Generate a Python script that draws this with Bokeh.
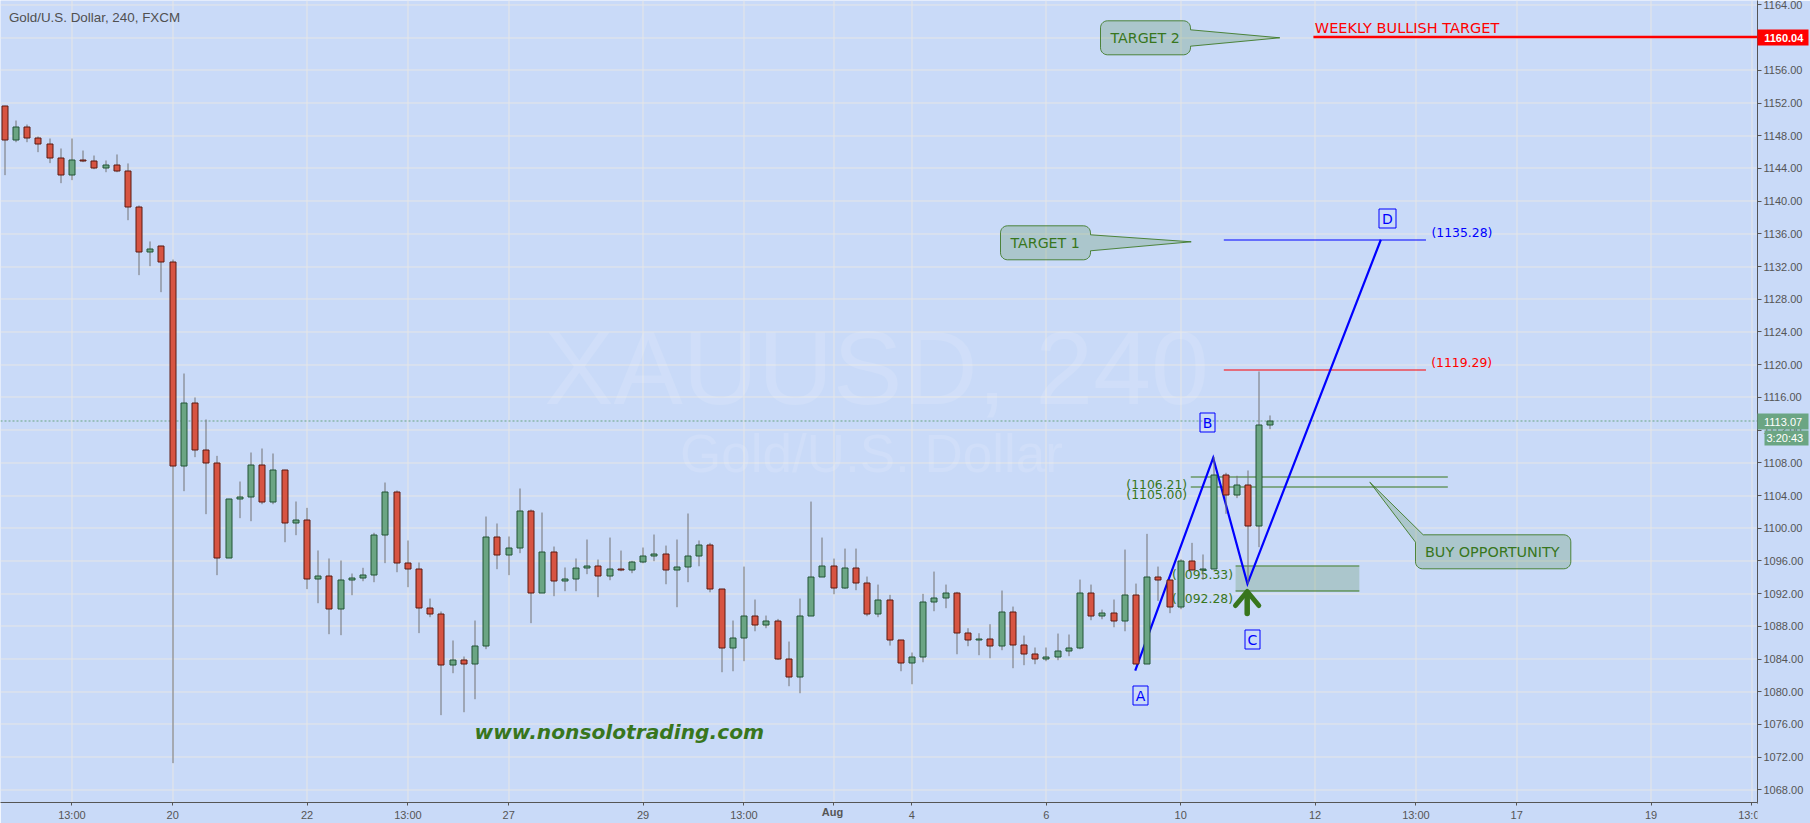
import numpy as np
from bokeh.plotting import figure
from bokeh.layouts import Row
from bokeh.models import FixedTicker, Range1d, NumeralTickFormatter
from bokeh.core.properties import value
from bokeh.embed import file_html
from bokeh.resources import INLINE

body_top = [1151.66,1149.09,1149.09,1147.74,1147.01,1145.3,1145.05,1145.05,1144.93,1144.44,
 1144.44,1143.71,1139.31,1134.17,1134.54,1132.58,1115.34,1115.34,1109.59,1108.0,
 1103.59,1103.84,1107.75,1107.75,1107.14,1107.14,1101.03,1101.03,1094.18,1094.18,
 1093.69,1093.93,1094.3,1099.19,1104.45,1104.45,1095.77,1095.03,1090.26,1089.53,
 1083.9,1083.9,1085.62,1098.95,1098.95,1097.6,1102.13,1102.13,1097.11,1097.11,
 1093.81,1095.16,1095.4,1095.4,1095.03,1095.03,1095.88,1096.62,1096.86,1096.86,
 1095.27,1096.62,1097.96,1097.96,1092.58,1086.59,1089.28,1089.28,1088.67,1088.67,
 1084.02,1089.28,1094.05,1095.4,1095.4,1095.15,1095.15,1093.32,1091.24,1091.24,
 1086.34,1084.27,1090.99,1091.48,1092.09,1092.09,1087.2,1086.47,1086.47,1089.77,
 1089.77,1085.73,1084.63,1084.27,1085.0,1085.37,1092.09,1092.09,1089.65,1089.65,
 1091.85,1091.85,1094.05,1094.05,1093.68,1096.01,1096.01,1094.99,1106.53,1106.53,
 1105.31,1105.31,1112.65,1113.07]
body_bot = [1147.5,1147.5,1147.74,1147.01,1145.3,1143.22,1143.22,1144.89,1144.08,1144.08,
 1143.71,1139.26,1133.8,1133.8,1132.58,1107.63,1107.63,1109.59,1108.0,1096.38,
 1096.38,1103.59,1103.84,1103.23,1103.23,1100.66,1100.66,1093.81,1093.81,1090.14,
 1090.14,1093.69,1093.93,1094.3,1099.19,1095.77,1095.03,1090.26,1089.53,1083.29,
 1083.29,1083.42,1083.42,1085.62,1096.75,1096.75,1097.6,1092.1,1092.1,1093.57,
 1093.57,1093.81,1095.16,1094.18,1094.17,1094.87,1094.91,1095.88,1096.58,1094.91,
 1094.91,1095.27,1096.62,1092.58,1085.37,1085.37,1086.59,1088.18,1088.18,1083.98,
 1081.82,1081.82,1089.28,1094.05,1092.7,1092.7,1093.32,1089.52,1089.52,1086.34,
 1083.53,1083.53,1084.27,1090.99,1091.48,1087.2,1086.34,1086.34,1085.61,1085.61,
 1085.73,1084.63,1083.98,1083.98,1084.23,1085.0,1085.33,1089.28,1089.28,1088.63,
 1088.63,1083.41,1083.41,1093.68,1090.38,1090.38,1094.87,1094.87,1094.99,1104.09,
 1104.09,1100.29,1100.29,1112.65]
highs = [1151.66,1149.86,1149.37,1147.91,1147.66,1146.44,1147.66,1146.19,1145.58,1144.97,
 1145.71,1144.61,1139.47,1135.07,1134.54,1132.86,1118.92,1115.99,1113.3,1108.85,
 1103.59,1105.71,1109.26,1109.75,1109.14,1107.14,1103.27,1102.49,1097.28,1096.3,
 1096.05,1094.46,1095.16,1099.44,1105.59,1104.62,1098.5,1095.81,1091.4,1089.82,
 1086.27,1084.31,1088.71,1101.43,1100.58,1098.99,1104.86,1102.29,1101.92,1097.76,
 1095.2,1096.3,1098.62,1096.17,1098.86,1097.27,1096.01,1097.64,1099.23,1097.88,
 1098.62,1101.8,1098.5,1098.21,1092.58,1088.71,1095.31,1091.28,1089.32,1088.91,
 1086.14,1091.4,1103.26,1098.86,1096.29,1097.51,1097.51,1094.09,1093.11,1091.85,
 1086.34,1084.8,1091.97,1094.7,1093.11,1092.22,1087.77,1087.16,1088.26,1092.38,
 1090.42,1086.87,1085.41,1085.41,1087.12,1087.0,1093.72,1093.11,1090.05,1091.28,
 1097.39,1093.23,1099.31,1095.31,1093.68,1096.21,1098.21,1096.79,1108.73,1106.78,
 1106.41,1107.06,1119.17,1113.79]
lows = [1143.18,1147.21,1147.21,1145.99,1144.65,1142.2,1142.57,1144.77,1143.91,1143.54,
 1143.54,1137.67,1130.95,1132.05,1128.87,1071.27,1104.53,1108.69,1101.72,1094.26,
 1096.38,1101.23,1100.86,1102.94,1102.94,1098.29,1099.15,1092.55,1090.83,1087.04,
 1086.92,1091.81,1093.52,1093.4,1095.73,1094.62,1092.79,1087.17,1089.12,1077.14,
 1082.27,1077.5,1079.09,1085.21,1094.99,1094.26,1096.95,1088.39,1092.1,1091.69,
 1092.3,1092.3,1094.38,1091.57,1093.64,1094.74,1094.5,1095.72,1095.97,1093.15,
 1090.34,1093.4,1095.35,1092.17,1082.39,1082.51,1083.74,1087.4,1087.77,1083.9,
 1080.68,1079.82,1089.28,1094.05,1091.93,1092.58,1092.42,1089.24,1089.12,1085.65,
 1082.51,1080.92,1083.61,1089.85,1090.22,1084.59,1085.57,1084.47,1084.1,1085.08,
 1082.88,1083.25,1083.37,1083.74,1083.86,1084.35,1085.2,1088.75,1088.87,1087.89,
 1087.4,1083.41,1083.41,1091.11,1089.61,1090.1,1094.87,1093.69,1094.99,1101.76,
 1103.68,1093.2,1097.69,1112.12]
candle_dir = ("rgrrrrgrrg" "rrrgrrgrrr" "gggrgrgrgr" "gggggrrrrr" "grggrggrgr"
              "gggrgrgggr" "gggrrggrgr" "rgggrgrrgr" "rggggrrgrg" "rrrggggrgr"
              "grgrrgrggr" "grgg")

x_ticks = [6, 15, 27, 36, 45, 57, 66, 74, 81, 93, 105, 117, 126, 135, 147, 156]
x_labels = ["13:00","20","22","13:00","27","29","13:00","Aug","4","6","10","12","13:00","17","19","13:00"]
y_ticks = list(range(1068, 1165, 4))

abcd_x = [100.94, 107.9, 110.96, 122.87]
abcd_y = [1082.6, 1108.61, 1093.2, 1135.28]
last_price = 1113.07
target_level = 1160.04

# pixel <-> data calibration of the layout
X0, DX, Y0, PY = 4.2, 11.2, 4.4, 8.177
FW, FH = 1757, 802
def xd(px): return (np.asarray(px, float) - X0) / DX
def yd(py): return 1164 - (np.asarray(py, float) - Y0) / PY
def xp(i): return X0 + DX * np.asarray(i, float)
def yp(v): return Y0 + (1164 - np.asarray(v, float)) * PY
def sx(i): return xd(np.floor(xp(i)) + 0.5)
def sy(v): return yd(np.floor(yp(v)) + 0.5)

BG, GRID, GREEN, BLUE, RED = "#c9daf8", "#e6e6e6", "#38761d", "#0000ff", "#ff0000"
TXT = "#555555"
TAG_GREEN = "#6ba583"

p = figure(width=1810, height=823, frame_width=FW, frame_height=FH, output_backend="svg",
           toolbar_location=None, y_axis_location="right",
           x_range=Range1d(float(xd(0)), float(xd(FW))), y_range=Range1d(float(yd(FH)), float(yd(0))),
           min_border_left=0, min_border_top=0, min_border_right=53, min_border_bottom=21,
           background_fill_color=BG, border_fill_color=BG, outline_line_color=None)
p.xgrid.visible = False
p.ygrid.visible = False

# grid
gx = sx(x_ticks)
p.segment(gx, yd(0), gx, yd(FH), line_color=GRID, line_width=1)
gy = sy(y_ticks)
p.segment(xd(0), gy, xd(FW), gy, line_color=GRID, line_width=1)

# axes
for ax in (p.xaxis[0], p.yaxis[0]):
    ax.axis_line_color = TXT
    ax.major_tick_line_color = TXT
    ax.minor_tick_line_color = None
    ax.major_tick_in = 0
    ax.major_label_text_color = TXT
    ax.major_label_text_font = "Liberation Sans"
    ax.major_label_text_font_size = "11px"
p.xaxis[0].ticker = FixedTicker(ticks=x_ticks)
p.xaxis[0].major_tick_out = 3
p.xaxis[0].major_label_standoff = 3
overrides = {t: l for t, l in zip(x_ticks, x_labels)}
overrides[74] = ""
p.xaxis[0].major_label_overrides = overrides
p.yaxis[0].ticker = FixedTicker(ticks=y_ticks)
p.yaxis[0].major_tick_out = 4
p.yaxis[0].major_label_standoff = 2
p.yaxis[0].formatter = NumeralTickFormatter(format="0.00")

def text(px, py, s, color, size, font="DejaVu Sans", align="left", style="normal", alpha=1.0):
    p.text([float(xd(px))], [float(yd(py))], text=[s], text_color=color, text_font=value(font),
           text_font_size=size, text_align=align, text_baseline="middle",
           text_font_style=style, text_alpha=alpha)

# watermark and title
text(876, 367, "XAUUSD, 240", "#ffffff", "104px", "Liberation Sans", "center", alpha=0.13)
text(871, 453, "Gold/U.S. Dollar", "#ffffff", "53px", "Liberation Sans", "center", alpha=0.13)
text(8.4, 16.5, "Gold/U.S. Dollar, 240, FXCM", "#505050", "13.4px", "Liberation Sans", "left")

# last price
p.line([float(xd(0)), float(xd(FW))], [float(sy(last_price))] * 2, line_color=TAG_GREEN, line_dash="2 2", line_width=1)

# Fibonacci levels
def hline(i0, i1, v, color, w=1):
    p.line([i0, i1], [float(sy(v))] * 2, line_color=color, line_width=w)
hline(108.85, 126.9, 1135.28, BLUE)
hline(108.85, 126.9, 1119.37, RED)
hline(105.9, 128.85, 1106.29, GREEN)
hline(105.9, 128.85, 1105.06, GREEN)
hline(116.85, float(xd(FW)), target_level, RED, 2.5)

# buy zone
p.quad(left=[109.9], right=[120.95], top=[1095.33], bottom=[1092.28], fill_color=GREEN, fill_alpha=0.2, line_color=None)
hline(109.9, 120.95, 1095.33, GREEN, 1.2)
hline(109.9, 120.95, 1092.28, GREEN, 1.2)

# ABCD leg
p.line(abcd_x, abcd_y, line_color=BLUE, line_width=2.2, line_join="miter")

# arrow
p.line(xd([1235, 1246.7, 1258.3]), yd([605, 591, 605]), line_color=GREEN, line_width=5, line_cap="round", line_join="round")
p.line(xd([1246.7, 1246.7]), yd([592, 613]), line_color=GREEN, line_width=5.5, line_cap="round")

# callouts
def corner(cx, cy, r, a0, a1, n=8):
    t = np.radians(np.linspace(a0, a1, n))
    return list(cx + r * np.cos(t)), list(cy + r * np.sin(t))
def callout(l, r, t, b, rad, tail=None, buy=None):
    xs, ys = [], []
    def add(c):
        xs.extend(c[0]); ys.extend(c[1])
    if buy is None:
        add(corner(l + rad, t + rad, rad, 180, 270))
    else:
        xs.extend([buy[2], buy[0], buy[4]]); ys.extend([buy[3], buy[1], buy[5]])
    add(corner(r - rad, t + rad, rad, 270, 360))
    if tail is not None:
        xs.extend([r, tail[0], r]); ys.extend([tail[1], tail[2], tail[3]])
    add(corner(r - rad, b - rad, rad, 0, 90))
    add(corner(l + rad, b - rad, rad, 90, 180))
    p.patch(xd(xs), yd(ys), fill_color=GREEN, fill_alpha=0.2, line_color=GREEN, line_alpha=0.85, line_width=1)
callout(1100, 1190, 20.3, 54.3, 7, tail=(1279.3, 29.3, 37.3, 45.7))
callout(1000, 1090, 225.3, 259.3, 7, tail=(1190.7, 234.3, 241.3, 250.3))
callout(1415, 1570.3, 534.3, 568.3, 7, buy=(1369.3, 481.7, 1415, 541.7, 1422.7, 534.3))
text(1110, 37.3, "TARGET 2", GREEN, "14.2px")
text(1010, 242, "TARGET 1", GREEN, "14.2px")
text(1424.5, 551.3, "BUY OPPORTUNITY", GREEN, "14.4px")
text(1314.3, 27.6, "WEEKLY BULLISH TARGET", RED, "14.5px")
text(474, 731, "www.nonsolotrading.com", GREEN, "20.2px", "DejaVu Sans", "left", "bold italic")

# level labels
text(1431, 232, "(1135.28)", BLUE, "12.4px")
text(1430.7, 362, "(1119.29)", RED, "12.4px")
text(1186.7, 484, "(1106.21)", GREEN, "12.4px", align="right")
text(1186.7, 493.7, "(1105.00)", GREEN, "12.4px", align="right")
text(1232.5, 573.7, "(1095.33)", GREEN, "12.4px", align="right")
text(1232.5, 597.7, "(1092.28)", GREEN, "12.4px", align="right")

# wave labels
for c, l, r, t, b in [("A", 1132.5, 1147.5, 685.5, 704.5), ("B", 1199.5, 1214.5, 412.5, 431.5),
                      ("C", 1244.5, 1259.5, 629.5, 648.5), ("D", 1378.5, 1395.5, 208.5, 227.5)]:
    p.quad(left=[float(xd(l))], right=[float(xd(r))], top=[float(yd(t))], bottom=[float(yd(b))],
           fill_color=None, line_color=BLUE, line_width=1)
    text((l + r) / 2, (t + b) / 2, c, BLUE, "14px", align="center")

# candles
n = len(body_top)
idx = np.arange(n)
cx = sx(idx)
half = 3.0 / DX
fills = ["#d75442" if d == "r" else "#6ba583" for d in candle_dir]
edges = ["#5b1a13" if d == "r" else "#225437" for d in candle_dir]
p.segment(cx, highs, cx, lows, line_color="#737375", line_width=1)
p.quad(left=cx - half, right=cx + half, top=sy(body_top), bottom=sy(body_bot),
       fill_color=fills, line_color=edges, line_width=1)

# transparent overlay in page pixels, for what lies beside the plot area
o = figure(width=1810, height=823, frame_width=1810, frame_height=823, output_backend="svg",
           toolbar_location=None, x_range=Range1d(0, 1810), y_range=Range1d(823, 0),
           min_border=0, background_fill_color=None, border_fill_color=None, outline_line_color=None)
o.axis.visible = False
o.xgrid.visible = False
o.ygrid.visible = False
o.margin = (0, 0, 0, -1810)
# the last time label runs into the price scale in the reference and is cut there
o.quad(left=[1757], right=[1810], top=[804], bottom=[823], fill_color=BG, line_color=None)
o.line([1757, 1757], [802, 803], line_color=TXT)
# price tags
o.quad(left=[1757, 1757, 1764], right=[1808, 1808, 1808], top=[29, 413, 430], bottom=[45, 429, 445],
       fill_color=[RED, TAG_GREEN, TAG_GREEN], line_color=None)
for tx, ty, s, style in [(1763.7, 37, "1160.04", "bold"), (1763.5, 421, "1113.07", "normal"), (1766, 437.7, "3:20:43", "normal")]:
    o.text([tx], [ty], text=[s], text_color="#ffffff", text_font=value("Liberation Sans"),
           text_font_size="11px", text_font_style=style, text_baseline="middle")
o.text([832], [811.7], text=["Aug"], text_color=TXT, text_font=value("Liberation Sans"),
       text_font_size="11px", text_font_style="bold", text_baseline="middle", text_align="center")

page = Row(children=[p, o])
open("out.html", "w").write(file_html(page, INLINE))
